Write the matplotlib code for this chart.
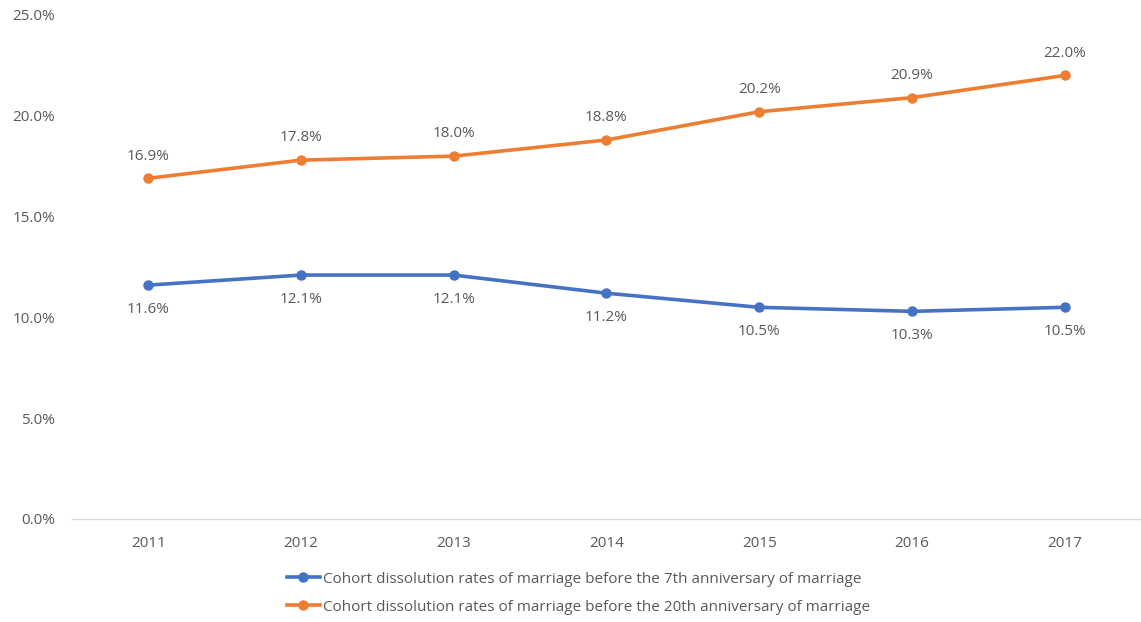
import matplotlib
matplotlib.use("Agg")
import matplotlib.pyplot as plt
from matplotlib.ticker import PercentFormatter

plt.rcParams["font.family"] = ["Open Sans", "DejaVu Sans"]

years = ["2011", "2012", "2013", "2014", "2015", "2016", "2017"]
rate_7th = [11.6, 12.1, 12.1, 11.2, 10.5, 10.3, 10.5]
rate_20th = [16.9, 17.8, 18.0, 18.8, 20.2, 20.9, 22.0]
label_7th = "Cohort dissolution rates of marriage before the 7th anniversary of marriage"
label_20th = "Cohort dissolution rates of marriage before the 20th anniversary of marriage"

BLUE = "#4472C4"
ORANGE = "#ED7D31"
GREY = "#595959"

fig = plt.figure(figsize=(11.41, 6.22), dpi=100)
ax = fig.add_axes([0.063, 0.1656, 0.937, 0.8103])

x = list(range(len(years)))
ax.plot(x, rate_7th, color=BLUE, lw=2.6, marker="o", ms=6.5, label=label_7th)
ax.plot(x, rate_20th, color=ORANGE, lw=2.6, marker="o", ms=6.5, label=label_20th)

for xi, v in zip(x, rate_7th):
    ax.annotate(f"{v:.1f}%", (xi, v), xytext=(0, -17.5), textcoords="offset points",
                ha="center", va="center", fontsize=11, color=GREY)
for xi, v in zip(x, rate_20th):
    ax.annotate(f"{v:.1f}%", (xi, v), xytext=(0, 16), textcoords="offset points",
                ha="center", va="center", fontsize=11, color=GREY)

ax.set_xlim(-0.5, len(years) - 0.5)
ax.set_ylim(0, 25)
ax.set_yticks([0, 5, 10, 15, 20, 25])
ax.yaxis.set_major_formatter(PercentFormatter(decimals=1))
ax.set_xticks(x)
ax.set_xticklabels(years)
ax.tick_params(axis="both", length=0, labelsize=11, labelcolor=GREY)
ax.tick_params(axis="y", pad=12)
ax.tick_params(axis="x", pad=12.5)

for side in ["top", "right", "left"]:
    ax.spines[side].set_visible(False)
ax.spines["bottom"].set_color("#D9D9D9")
ax.spines["bottom"].set_linewidth(1.0)

fig.legend(loc="upper left", bbox_to_anchor=(0.2515, 0.081), frameon=False,
           fontsize=11, labelcolor=GREY, handlelength=2.15, handletextpad=0.2,
           labelspacing=0.85, borderpad=0, borderaxespad=0)

fig.savefig("out.png", dpi=100)
